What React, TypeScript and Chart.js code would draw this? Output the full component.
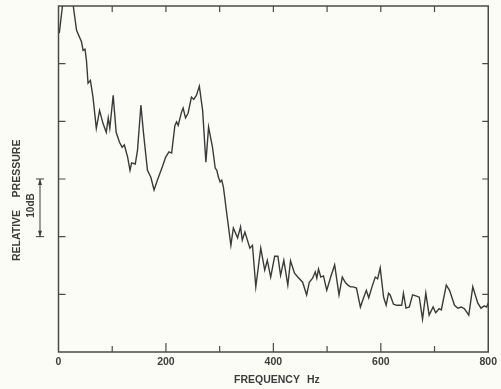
import { useEffect, useRef } from 'react';
import { Chart, registerables } from 'chart.js';

Chart.register(...registerables);

// Frequency (Hz) of each traced point
const frequencyHz = [
  1.5, 8, 14, 21, 27.5, 33.6, 42.8, 45.7, 49.4, 52, 55, 59.4, 64.2, 70.4, 76.5, 82.6, 88.9, 92.6, 95.5,
  101.8, 107.3, 113.4, 118.4, 122.6, 128.7, 133.1, 136.1, 142.9, 147.1, 153.4, 158.2, 165.6, 171.9,
  177.9, 184.0, 193.2, 199.5, 205.6, 210.6, 216.7, 219.8, 222.8, 229.0, 232.0, 236.4, 241.2, 247.5,
  251.7, 256.7, 262.2, 268.3, 274.4, 279.4, 286.7, 291.7, 294.7, 297.8, 300.9, 303.9, 307.0, 313.1,
  320.9, 325.5, 333.4, 338.9, 342.1, 347.0, 356.3, 361.1, 367.3, 376.5, 383.9, 388.7, 395.0, 402.4,
  408.4, 413.4, 419.5, 426.9, 431.9, 439.2, 445.3, 454.5, 461.9, 466.9, 473.0, 478.0, 480.9, 484.0,
  488.3, 493.3, 499.4, 506.7, 514.1, 522.2, 528.3, 534.4, 538.8, 543.6, 548.6, 554.7, 562.0, 568.3,
  573.1, 577.5, 583.6, 589.7, 594.1, 598.9, 605.2, 609.9, 614.4, 617.4, 623.6, 629.7, 638.9, 642.1,
  646.9, 653.1, 659.2, 666.6, 671.6, 677.7, 683.8, 690.0, 697.4, 702.2, 708.5, 712.7, 721.9, 728.0,
  737.2, 743.5, 749.6, 755.7, 763.8, 771.2, 780.4, 786.5, 792.5, 797.0, 800,
];

// Relative pressure (dB, arbitrary zero at the bottom of the frame)
const pressureDb = [
  55.3, 60.5, 63, 62.5, 60, 55.8, 53.8, 52.3, 52.5, 50.6, 46.6, 47.1, 44.2, 38.8, 41.9, 39.7, 38.1, 40.6, 38.8,
  44.5, 38.1, 36.4, 35.5, 35.9, 33.8, 31.5, 32.8, 32.6, 35.0, 42.8, 38.0, 31.5, 30.3,
  28.1, 29.8, 32.1, 33.8, 34.7, 34.5, 39.3, 39.9, 39.3, 41.6, 42.3, 40.6, 41.4, 44.2,
  43.8, 44.5, 46.1, 41.9, 32.9, 39.0, 35.5, 31.9, 31.5, 30.3, 29.5, 29.8, 28.6, 24.1,
  18.5, 21.5, 19.8, 21.7, 19.4, 20.8, 18.0, 18.5, 11.3, 18.0, 14.2, 15.9, 13.0, 16.6,
  16.6, 13.3, 15.9, 11.6, 15.8, 13.7, 13.0, 12.1, 9.9, 12.1, 12.8, 13.9, 12.8, 14.4,
  13.0, 13.2, 10.7, 13.0, 15.1, 9.9, 13.0, 12.0, 11.6, 11.3, 11.3, 11.1, 7.8, 9.5,
  10.7, 9.4, 11.3, 13.0, 12.7, 14.6, 9.5, 8.1, 10.2, 9.9, 8.3, 8.1, 8.1, 10.2,
  7.6, 7.8, 9.9, 9.7, 9.5, 5.7, 10.2, 6.4, 7.8, 6.8, 7.5, 7.3, 11.6, 10.7,
  8.1, 7.6, 7.8, 7.5, 6.4, 11.3, 8.5, 7.6, 8.0, 7.8, 8.5,
];

const xTickValues = [0, 100, 200, 300, 400, 500, 600, 700, 800];
const xLabelValues = [0, 200, 400, 600, 800];
const yTickValues = [10, 20, 30, 40, 50];
const xTitleWord = 'FREQUENCY';
const xTitleUnit = 'Hz';
const yTitleWords = ['RELATIVE', 'PRESSURE'];
const scaleBarLabel = '10dB';
const scaleBarDb = [20, 30];

const FONT = '"Liberation Sans", Arial, sans-serif';
const INK = '#3c3c3c';

const framePlugin = {
  id: 'frame',
  beforeDraw(chart: any) {
    const { ctx, width, height } = chart;
    ctx.save();
    ctx.fillStyle = '#fcfcf7';
    ctx.fillRect(0, 0, width, height);
    ctx.restore();
  },
  afterDraw(chart: any) {
    const { ctx, chartArea: a, scales } = chart;
    const xs = scales.x;
    const ys = scales.y;
    ctx.save();
    ctx.strokeStyle = '#4a4a4a';
    ctx.lineWidth = 1.5;
    ctx.strokeRect(a.left, a.top, a.right - a.left, a.bottom - a.top);

    ctx.lineWidth = 1.2;
    ctx.beginPath();
    xTickValues.forEach((v) => {
      if (v === xTickValues[0] || v === xTickValues[xTickValues.length - 1]) return;
      const px = xs.getPixelForValue(v);
      const major = xLabelValues.includes(v);
      ctx.moveTo(px, a.bottom);
      ctx.lineTo(px, a.bottom - (major ? 9 : 6));
      ctx.moveTo(px, a.top);
      ctx.lineTo(px, a.top + 6);
    });
    yTickValues.forEach((v) => {
      const py = ys.getPixelForValue(v);
      ctx.moveTo(a.left, py);
      ctx.lineTo(a.left + 7, py);
      ctx.moveTo(a.right, py);
      ctx.lineTo(a.right - 6, py);
    });
    ctx.stroke();

    // x title
    ctx.fillStyle = INK;
    ctx.font = `bold 10.5px ${FONT}`;
    ctx.textBaseline = 'middle';
    ctx.textAlign = 'left';
    ctx.fillText(xTitleWord, 234, 380);
    ctx.fillText(xTitleUnit, 307, 380);

    // y title (rotated)
    ctx.save();
    ctx.translate(17, 0);
    ctx.rotate(-Math.PI / 2);
    ctx.textAlign = 'center';
    ctx.font = `bold 10.5px ${FONT}`;
    ctx.fillText(yTitleWords[0], -235.5, 0);
    ctx.fillText(yTitleWords[1], -168.5, 0);
    ctx.restore();

    // scale bar label
    ctx.save();
    ctx.translate(31, 0);
    ctx.rotate(-Math.PI / 2);
    ctx.textAlign = 'center';
    ctx.font = `bold 10px ${FONT}`;
    ctx.fillText(scaleBarLabel, -205.5, 0);
    ctx.restore();

    // scale bar (10 dB)
    const yTop = ys.getPixelForValue(scaleBarDb[1]);
    const yBot = ys.getPixelForValue(scaleBarDb[0]);
    const bx = 40;
    ctx.strokeStyle = INK;
    ctx.lineWidth = 1;
    ctx.beginPath();
    ctx.moveTo(bx, yTop);
    ctx.lineTo(bx, yBot);
    ctx.moveTo(bx - 4, yTop);
    ctx.lineTo(bx + 4, yTop);
    ctx.moveTo(bx - 4, yBot);
    ctx.lineTo(bx + 4, yBot);
    ctx.stroke();
    ctx.fillStyle = INK;
    ctx.beginPath();
    ctx.moveTo(bx, yTop);
    ctx.lineTo(bx - 2, yTop + 6);
    ctx.lineTo(bx + 2, yTop + 6);
    ctx.closePath();
    ctx.fill();
    ctx.beginPath();
    ctx.moveTo(bx, yBot);
    ctx.lineTo(bx - 2, yBot - 6);
    ctx.lineTo(bx + 2, yBot - 6);
    ctx.closePath();
    ctx.fill();
    ctx.restore();
  },
};

export default function App() {
  const ref = useRef<HTMLCanvasElement | null>(null);
  useEffect(() => {
    if (!ref.current) return;
    const points = frequencyHz.map((f, i) => ({ x: f, y: pressureDb[i] }));
    const chart = new Chart(ref.current, {
      type: 'line',
      data: {
        datasets: [
          {
            data: points,
            borderColor: '#3a3a3a',
            borderWidth: 1.4,
            pointRadius: 0,
            tension: 0,
            fill: false,
          },
        ],
      },
      options: {
        animation: false,
        responsive: false,
        maintainAspectRatio: false,
        layout: { padding: { top: 6, right: 8.5, left: 0, bottom: 0 } },
        plugins: { legend: { display: false }, tooltip: { enabled: false } },
        scales: {
          x: {
            type: 'linear',
            min: 0,
            max: 800,
            afterFit: (s: any) => {
              s.height = 37;
            },
            afterBuildTicks: (s: any) => {
              s.ticks = xTickValues.map((v) => ({ value: v }));
            },
            grid: { display: false, drawTicks: false },
            border: { display: false },
            ticks: {
              autoSkip: false,
              maxRotation: 0,
              padding: 4,
              color: INK,
              font: { family: FONT, weight: 'bold', size: 10.5 },
              callback: (v: any) => (xLabelValues.includes(Number(v)) ? String(v) : ''),
            },
          },
          y: {
            type: 'linear',
            min: 0,
            max: 60,
            afterFit: (s: any) => {
              s.width = 58.5;
            },
            grid: { display: false, drawTicks: false },
            border: { display: false },
            ticks: { display: false },
          },
        },
      },
      plugins: [framePlugin],
    });
    return () => chart.destroy();
  }, []);
  return (
    <div style={{ position: 'fixed', left: 0, top: 0, width: 501, height: 389 }}>
      <canvas ref={ref} width={501} height={389} style={{ display: 'block' }} />
    </div>
  );
}
